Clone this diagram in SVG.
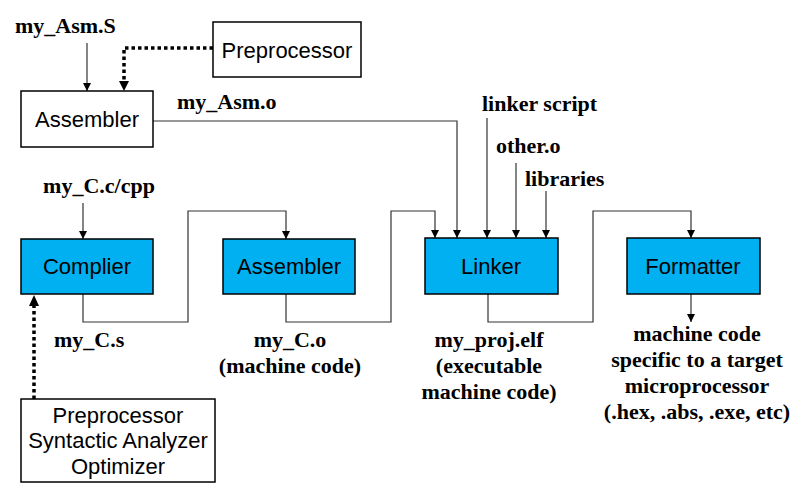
<svg xmlns="http://www.w3.org/2000/svg" width="808" height="504" viewBox="0 0 808 504">
<style>
.box{fill:#fff;stroke:#000;stroke-width:1.5}
.blue{fill:#00B0F0;stroke:#000;stroke-width:1.5}
.bl{font-family:"Liberation Sans",Arial,sans-serif;font-size:22px;fill:#000;text-anchor:middle}
.lb{font-family:"Liberation Serif","Times New Roman",serif;font-size:22px;font-weight:bold;fill:#000}
.c{text-anchor:middle}
.ln{fill:none;stroke:#333;stroke-width:1.2}
.dot{fill:none;stroke:#000;stroke-width:3.5;stroke-dasharray:3.5 3}
</style>
<defs>
<marker id="a" viewBox="0 0 8 8" refX="8" refY="4" markerWidth="8" markerHeight="8" markerUnits="userSpaceOnUse" orient="auto">
<path d="M0,0 L8,4 L0,8 Z" fill="#000"/>
</marker>
<marker id="ad" viewBox="0 0 10 11" refX="10" refY="5.5" markerWidth="10" markerHeight="11" markerUnits="userSpaceOnUse" orient="auto">
<path d="M0,0 L10,5.5 L0,11 Z" fill="#000"/>
</marker>
</defs>
<rect width="808" height="504" fill="#fff"/>

<g id="connectors">
<line class="ln" x1="87" y1="43" x2="87" y2="91" marker-end="url(#a)"/>
<path class="dot" d="M213,48 H124 V82"/>
<path d="M119,81 L129,81 L124,91 Z" fill="#000"/>
<path class="ln" d="M153,121 H457 V238" marker-end="url(#a)"/>
<line class="ln" x1="83" y1="203" x2="83" y2="239" marker-end="url(#a)"/>
<path class="ln" d="M83,294 V322 H188 V211 H286 V239" marker-end="url(#a)"/>
<path class="ln" d="M286,294 V322 H391 V211 H435 V238" marker-end="url(#a)"/>
<line class="ln" x1="487" y1="118" x2="487" y2="238" marker-end="url(#a)"/>
<line class="ln" x1="516" y1="163" x2="516" y2="238" marker-end="url(#a)"/>
<line class="ln" x1="546" y1="191" x2="546" y2="238" marker-end="url(#a)"/>
<path class="ln" d="M488,294 V322 H593 V211 H691 V238" marker-end="url(#a)"/>
<line class="ln" x1="691" y1="294" x2="691" y2="322" marker-end="url(#a)"/>
<path class="dot" d="M34,399 V305"/>
<path d="M29,306 L39,306 L34,295 Z" fill="#000"/>
</g>

<g id="asm-top">
<rect class="box" x="21" y="91" width="132" height="56"/>
<text class="bl" x="87" y="127">Assembler</text>
</g>
<g id="preproc-top">
<rect class="box" x="213" y="22" width="148" height="55"/>
<text class="bl" x="287" y="58">Preprocessor</text>
</g>
<g id="compiler">
<rect class="blue" x="21" y="239" width="132" height="55"/>
<text class="bl" x="87" y="274">Complier</text>
</g>
<g id="asm2">
<rect class="blue" x="223" y="239" width="132" height="55"/>
<text class="bl" x="289" y="274">Assembler</text>
</g>
<g id="linker">
<rect class="blue" x="425" y="238" width="133" height="56"/>
<text class="bl" x="491" y="274">Linker</text>
</g>
<g id="formatter">
<rect class="blue" x="627" y="238" width="133" height="56"/>
<text class="bl" x="693" y="274">Formatter</text>
</g>
<g id="preproc-bottom">
<rect class="box" x="21" y="399" width="194" height="83"/>
<text class="bl" x="118" y="423">Preprocessor</text>
<text class="bl" x="118" y="448">Syntactic Analyzer</text>
<text class="bl" x="118" y="474">Optimizer</text>
</g>

<g id="labels">
<text class="lb" x="15" y="33">my_Asm.S</text>
<text class="lb" x="177" y="109">my_Asm.o</text>
<text class="lb c" x="99" y="193">my_C.c/cpp</text>
<text class="lb" x="482" y="111">linker script</text>
<text class="lb" x="496" y="153">other.o</text>
<text class="lb" x="525" y="186">libraries</text>
<text class="lb" x="54" y="347">my_C.s</text>
<text class="lb c" x="290" y="347">my_C.o</text>
<text class="lb c" x="290" y="373">(machine code)</text>
<text class="lb c" x="489" y="347">my_proj.elf</text>
<text class="lb c" x="489" y="373">(executable</text>
<text class="lb c" x="489" y="399">machine code)</text>
<text class="lb c" x="697" y="341">machine code</text>
<text class="lb c" x="697" y="367">specific to a target</text>
<text class="lb c" x="697" y="393">microprocessor</text>
<text class="lb c" x="697" y="419">(.hex, .abs, .exe, etc)</text>
</g>
</svg>
